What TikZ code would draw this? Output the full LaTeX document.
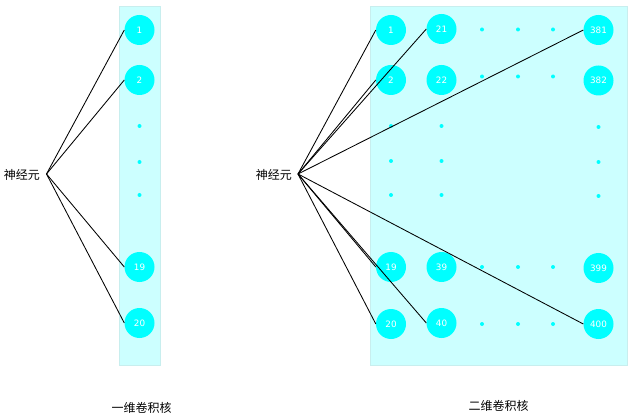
\documentclass[tikz,border=0pt]{standalone}
\usepackage{fontspec}
\newfontfamily\cjk{Noto Sans CJK SC}
\setsansfont{DejaVu Sans}
\definecolor{panelfill}{RGB}{204,255,255}
\definecolor{paneldraw}{RGB}{200,238,238}
\definecolor{cellcyan}{RGB}{0,255,255}
\tikzset{
  panel/.style={fill=panelfill, draw=paneldraw, line width=0.6pt},
  cell/.style={circle, fill=cellcyan, minimum size=30pt, inner sep=0pt,
    text=white, font=\sffamily\fontsize{8.8}{10}\selectfont},
  dotmark/.style={circle, fill=cellcyan, minimum size=4pt, inner sep=0pt},
  conn/.style={black, line width=0.85pt},
  lbl/.style={font=\cjk\fontsize{12}{14}\selectfont, inner sep=0pt}
}
\begin{document}
\begin{tikzpicture}[x=1pt,y=-1pt]
\useasboundingbox (0,0) rectangle (628,419);
% ---------- left: 1D kernel ----------
\path[panel] (119,6) rectangle (160,365);
\node[cell] (a1) at (139.5,30) {1};
\node[cell] (a2) at (139.5,80) {2};
\node[cell] (a19) at (139.5,267) {19};
\node[cell] (a20) at (139.5,323) {20};
\node[dotmark] (ad1) at (139.5,126) {};
\node[dotmark] (ad2) at (139.5,162) {};
\node[dotmark] (ad3) at (139.5,195) {};
\node[lbl, anchor=east] (nl) at (40,175) {神经元};
\coordinate (ol) at (46.5,174);
\foreach \t in {a1,a2,a19,a20} \draw[conn] (ol) -- (\t.west);
\node[lbl] (tl) at (141.5,408) {一维卷积核};
% ---------- right: 2D kernel ----------
\path[panel] (370,6) rectangle (627,365);
\node[cell] (b1) at (391,30) {1};
\node[cell] (b2) at (391,80) {2};
\node[cell] (b19) at (391,267) {19};
\node[cell] (b20) at (391,324) {20};
\node[cell] (b21) at (441.5,29) {21};
\node[cell] (b22) at (441.5,80) {22};
\node[cell] (b39) at (441.5,267) {39};
\node[cell] (b40) at (441.5,323) {40};
\node[cell] (b381) at (598.5,30) {381};
\node[cell] (b382) at (598.5,80.5) {382};
\node[cell] (b399) at (598.5,268) {399};
\node[cell] (b400) at (598.5,324) {400};
% row dots
\foreach \x [count=\i] in {482,518,553}{
  \node[dotmark] (r1d\i) at (\x,29.5) {};
  \node[dotmark] (r2d\i) at (\x,76.5) {};
  \node[dotmark] (r3d\i) at (\x,267) {};
  \node[dotmark] (r4d\i) at (\x,324) {};
}
% column dots
\foreach \y [count=\i] in {126,161,195}{
  \node[dotmark] (c1d\i) at (391,\y) {};
  \node[dotmark] (c2d\i) at (441.5,\y) {};
  \node[dotmark] (c3d\i) at (598.5,\y+1) {};
}
\node[lbl, anchor=east] (nr) at (292,175) {神经元};
\coordinate (or) at (298,174);
\foreach \t in {b1,b2,b21,b381,b19,b20,b40,b400} \draw[conn] (or) -- (\t.west);
\node[lbl] (tr) at (498.5,406) {二维卷积核};
\end{tikzpicture}
\end{document}
